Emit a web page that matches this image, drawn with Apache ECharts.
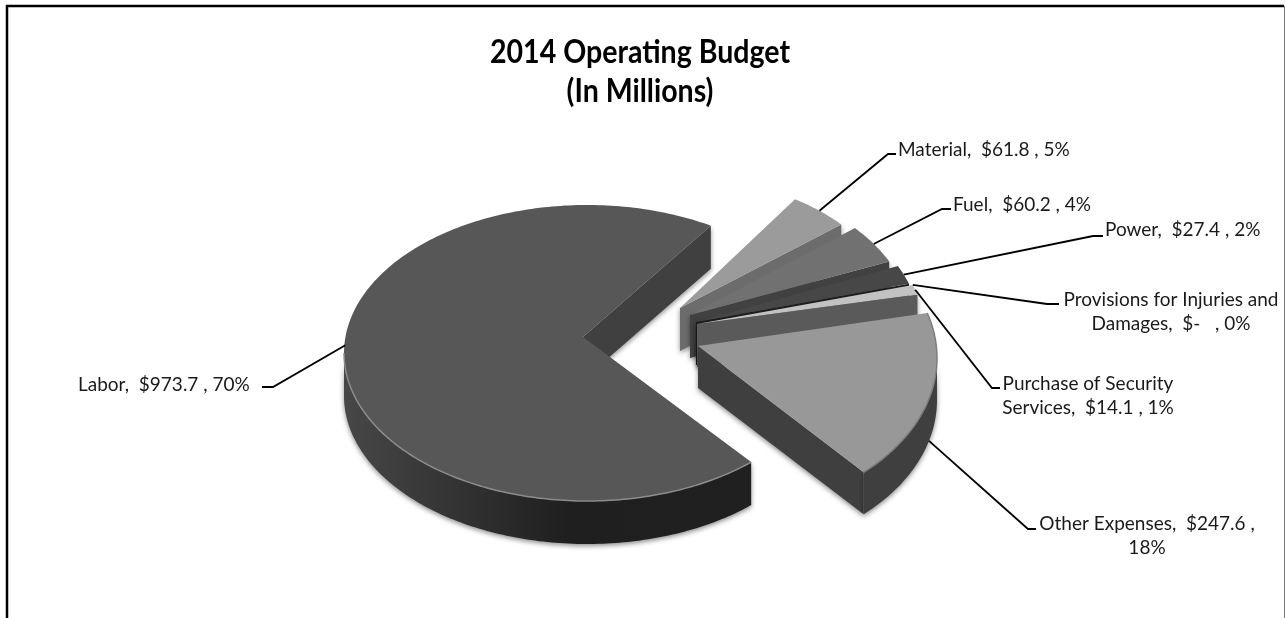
<!DOCTYPE html>
<html>
<head>
<meta charset="utf-8">
<style>html,body{margin:0;padding:0;background:#fff}#c{width:1286px;height:618px}</style>
<script src="https://cdn.jsdelivr.net/npm/echarts@6/dist/echarts.min.js"></script>
</head>
<body>
<div id="c"></div>
<script>
const titleText = '2014 Operating Budget\n(In Millions)';
const categories = ['Labor','Material','Fuel','Power','Provisions for Injuries and Damages','Purchase of Security Services','Other Expenses'];
const budget = [973.7,61.8,60.2,27.4,0,14.1,247.6];
const labelTexts = [
  'Labor,  $973.7 , 70%',
  'Material,  $61.8 , 5%',
  'Fuel,  $60.2 , 4%',
  'Power,  $27.4 , 2%',
  'Provisions for Injuries and\nDamages,  $-   , 0%',
  'Purchase of Security\nServices,  $14.1 , 1%',
  'Other Expenses,  $247.6 ,\n18%'
];

// Layout of the tilted, exploded pie (style only; the angles come from budget)
const firstAngle = -47.5;
const frames = [
  {cx:587,cy:353,rx:243,ry:148,ax:583,ay:337,depth:43,top:'#575757',wall:'#404040',side:['#474747','#202020','#1f1f1f'],rim:'#8c8c8c'},
  {cx:687,cy:324,rx:212,ry:145,ax:680,ay:308,depth:43,top:'#9b9b9b',wall:'#6c6c6c',side:['#6c6c6c','#6c6c6c','#6c6c6c'],rim:null},
  {cx:697,cy:331,rx:217,ry:150,ax:690,ay:315,depth:43,top:'#717171',wall:'#414141',side:['#414141','#414141','#414141'],rim:null},
  {cx:703,cy:338,rx:220,ry:155,ax:696,ay:322,depth:43,top:'#474747',wall:'#1e1e1e',side:['#1e1e1e','#1e1e1e','#1e1e1e'],rim:null},
  {cx:704,cy:341,rx:223,ry:160,ax:697,ay:324,depth:43,top:'#c2c2c2',wall:'#5a5a5a',side:['#5a5a5a','#5a5a5a','#5a5a5a'],rim:null},
  {cx:704,cy:341,rx:223,ry:160,ax:697,ay:324,depth:43,top:'#c2c2c2',wall:'#5a5a5a',side:['#5a5a5a','#5a5a5a','#5a5a5a'],rim:null},
  {cx:711,cy:358,rx:226,ry:155,ax:698,ay:346,depth:42,top:'#989898',wall:'#3f3f3f',side:['#3f3f3f','#3f3f3f','#3f3f3f'],rim:'#7d7d7d'}
];
const leaders = [
  {from:'top',dy:-23,elbow:[273,387],end:262,text:[78,385,'left']},
  {from:'top',dy:0,elbow:[888,154],end:896,text:[898,150,'left']},
  {from:'top',dy:0,elbow:[942,209],end:951,text:[953,205,'left']},
  {from:'top',dy:0,elbow:[1093,236],end:1103,text:[1105,230,'left']},
  {from:'top',dy:0,elbow:[1047,304],end:1059,text:[1171,312,'center']},
  {from:'top',dy:0,elbow:[992,388],end:1000,text:[1088,396,'center']},
  {from:'side',dy:0,elbow:[1028,529],end:1036,text:[1147,536,'center']}
];

const total = budget.reduce((a,b)=>a+b,0);
const spans = [];
budget.reduce((cur,v)=>{
  const next = cur - v/total*360;
  const wrap = cur < -180 ? 360 : 0;
  spans.push([cur+wrap,next+wrap]);
  return next;
}, firstAngle);
const rad = d => d*Math.PI/180;
const onArc = (f,t,dy=0) => [f.cx+f.rx*Math.cos(rad(t)), f.cy-f.ry*Math.sin(rad(t))+dy];
function arcPoints(f,t0,t1,dy=0){
  const pts=[]; const n=Math.max(2,Math.ceil(Math.abs(t0-t1)));
  for(let i=0;i<=n;i++) pts.push(onArc(f,t0+(t1-t0)*i/n,dy));
  return pts;
}
const shadow = {shadowBlur:5,shadowColor:'rgba(0,0,0,0.45)',shadowOffsetY:2,shadowOffsetX:0};

function renderSlice(params){
  const i = params.dataIndex;
  const [t0,t1] = spans[i];
  if (t0===t1) return {type:'group',children:[]};
  const f = frames[i];
  const kids = [];
  const end = onArc(f,t1);
  kids.push({type:'polygon',shape:{points:[[f.ax,f.ay],end,[end[0],end[1]+f.depth],[f.ax,f.ay+f.depth]]},
    style:Object.assign({fill:f.wall},shadow)});
  // front-facing part of the rim: angles whose sine is negative
  const a = Math.min(t0,0), b = Math.max(t1,-180);
  if (a>b){
    const upper = arcPoints(f,a,b), lower = arcPoints(f,b,a,f.depth);
    kids.push({type:'polygon',shape:{points:upper.concat(lower)},style:Object.assign({
      fill:{type:'linear',x:1,y:0,x2:0,y:0,colorStops:[{offset:0,color:f.side[1]},{offset:.45,color:f.side[2]},{offset:1,color:f.side[0]}]}
    },shadow)});
  }
  kids.push({type:'polygon',shape:{points:[[f.ax,f.ay]].concat(arcPoints(f,t0,t1))},style:{fill:f.top}});
  if (f.rim){
    kids.push({type:'polyline',shape:{points:arcPoints(f,Math.min(t0,30),Math.max(t1,-180))},style:{fill:null,stroke:f.rim,lineWidth:1.5}});
  }
  return {type:'group',children:kids};
}
function renderLeader(params){
  const i = params.dataIndex;
  const [t0,t1] = spans[i];
  const f = frames[i], L = leaders[i];
  const mid = (t0+t1)/2;
  const s = onArc(f,mid,L.from==='side'?f.depth:L.dy);
  return {type:'group',children:[
    {type:'polyline',shape:{points:[s,L.elbow,[L.end,L.elbow[1]]]},style:{fill:null,stroke:'#000',lineWidth:1.8}},
    {type:'text',style:{text:labelTexts[i],x:L.text[0],y:L.text[1],align:L.text[2],verticalAlign:'middle',
      fill:'#1a1a1a',font:'19px Lato',lineHeight:24}}
  ]};
}
const seriesData = categories.map((name,i)=>({name,value:budget[i]}));
const chart = echarts.init(document.getElementById('c'));
chart.setOption({
  animation:false,
  backgroundColor:'#fff',
  graphic:[
    {type:'line',shape:{x1:6,y1:6,x2:1284,y2:6},style:{stroke:'#000',lineWidth:2.5}},
    {type:'line',shape:{x1:7,y1:5,x2:7,y2:618},style:{stroke:'#000',lineWidth:2.5}},
    {type:'line',shape:{x1:1284.5,y1:6,x2:1284.5,y2:618},style:{stroke:'#777',lineWidth:1}},
    {type:'text',x:640,y:72,scaleX:0.865,style:{text:titleText,align:'center',verticalAlign:'middle',
      font:'bold 33px Lato',lineHeight:39,fill:'#000'}}
  ],
  series:[
    {type:'custom',coordinateSystem:'none',name:'slices',data:seriesData,renderItem:renderSlice,silent:true},
    {type:'custom',coordinateSystem:'none',name:'labels',data:seriesData,renderItem:renderLeader,silent:true}
  ]
});
</script>
</body>
</html>
